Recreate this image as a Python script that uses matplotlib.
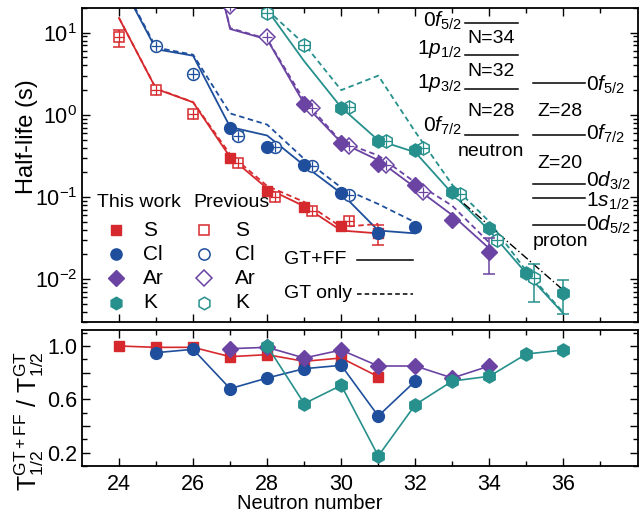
import matplotlib
matplotlib.use("Agg")
import matplotlib.pyplot as plt
import numpy as np

plt.rcParams['font.family'] = ['Liberation Sans', 'DejaVu Sans']
plt.rcParams['mathtext.fontset'] = 'custom'
plt.rcParams['mathtext.rm'] = 'Liberation Sans'
plt.rcParams['mathtext.it'] = 'Liberation Sans:italic'
plt.rcParams['mathtext.bf'] = 'Liberation Sans:bold'

# ---------------- data ----------------
elements = ['S', 'Cl', 'Ar', 'K']

# theory (GT+FF solid, GT only dashed)
N_S_th = [24, 25, 26, 27, 28, 29, 30, 31]
S_ff = [15.1, 2.07, 1.42, 0.305, 0.127, 0.077, 0.039, 0.036]
S_gt = [15.1, 2.09, 1.43, 0.33, 0.136, 0.087, 0.043, 0.047]

N_Cl_th = [24, 25, 26, 27, 28, 29, 30, 31, 32]
Cl_ff = [45, 6.3, 5.25, 0.71, 0.56, 0.242, 0.111, 0.039, 0.036]
Cl_gt = [47, 6.6, 5.4, 1.04, 0.76, 0.29, 0.13, 0.082, 0.049]

N_Ar_th = [26, 27, 28, 29, 30, 31, 32, 33, 34]
Ar_ff = [800, 11.1, 8.3, 1.36, 0.46, 0.28, 0.13, 0.06, 0.0235]
Ar_gt = [800, 11.4, 8.4, 1.5, 0.47, 0.32, 0.15, 0.078, 0.0277]

N_K_th = [28, 29, 30, 31, 32, 33, 34, 35, 36]
K_ff = [19.0, 4.5, 1.23, 0.49, 0.35, 0.11, 0.039, 0.0117, 0.0038]
K_gt = [19.0, 7.3, 2.0, 3.0, 0.62, 0.14, 0.05, 0.0125, 0.0039]

# this work
N_S_exp = [27, 28, 29, 30, 31]
S_exp = [0.30, 0.118, 0.075, 0.044, 0.036]
S_exp_err = [0, 0, 0, 0, 0.010]
N_Cl_exp = [27, 28, 29, 30, 31, 32]
Cl_exp = [0.695, 0.41, 0.242, 0.111, 0.036, 0.043]
Cl_exp_err = [0, 0, 0, 0, 0, 0]
N_Ar_exp = [29, 30, 31, 32, 33, 34]
Ar_exp = [1.36, 0.46, 0.254, 0.138, 0.052, 0.0214]
Ar_exp_err = [0, 0, 0, 0, 0, 0.010]
N_K_exp = [30, 31, 32, 33, 34, 35, 36]
K_exp = [1.20, 0.48, 0.37, 0.115, 0.042, 0.0117, 0.0068]
K_exp_err = [0, 0, 0, 0, 0, 0, 0.003]

# previous
N_S_prev = [24, 25, 26, 27, 28, 29, 30]
S_prev = [8.8, 2.0, 1.01, 0.26, 0.10, 0.067, 0.051]
S_prev_err = [2.1, 0, 0, 0, 0, 0, 0]
N_Cl_prev = [25, 26, 27, 28, 29, 30]
Cl_prev = [6.8, 3.15, 0.56, 0.41, 0.236, 0.105]
Cl_prev_err = [0, 0, 0.05, 0, 0, 0]
N_Ar_prev = [27, 28, 29, 30, 31, 32]
Ar_prev = [21, 8.8, 1.22, 0.42, 0.242, 0.115]
Ar_prev_err = [0, 0, 0, 0, 0, 0]
N_K_prev = [28, 29, 30, 31, 32, 33, 34, 35]
K_prev = [17.2, 7.1, 1.26, 0.48, 0.39, 0.11, 0.030, 0.0102]
K_prev_err = [0, 0, 0, 0, 0, 0, 0, 0.005]

# dash-dot trend line
N_fit = [33, 36]
fit_vals = [0.11, 0.0073]

# ratio panel
N_S_r = [24, 25, 26, 27, 28, 29, 30, 31]
S_ratio = [1.0, 0.99, 0.99, 0.92, 0.935, 0.885, 0.91, 0.77]
N_Cl_r = [25, 26, 27, 28, 29, 30, 31, 32]
Cl_ratio = [0.95, 0.975, 0.68, 0.76, 0.83, 0.855, 0.475, 0.737]
N_Ar_r = [27, 28, 29, 30, 31, 32, 33, 34]
Ar_ratio = [0.98, 0.99, 0.91, 0.97, 0.85, 0.85, 0.76, 0.85]
N_K_r = [28, 29, 30, 31, 32, 33, 34, 35, 36]
K_ratio = [1.0, 0.568, 0.705, 0.175, 0.56, 0.737, 0.773, 0.94, 0.97]

# level scheme (n, l, j)
neutron_levels = [('0', 'f', '5/2'), ('1', 'p', '1/2'), ('1', 'p', '3/2'), ('0', 'f', '7/2')]
neutron_gaps = ['N=34', 'N=32', 'N=28']
proton_levels = [('0', 'f', '5/2'), ('0', 'f', '7/2'), ('0', 'd', '3/2'), ('1', 's', '1/2'), ('0', 'd', '5/2')]
proton_gaps = ['Z=28', 'Z=20']

# ---------------- style ----------------
colors = {'S': '#d6292e', 'Cl': '#1f4f9c', 'Ar': '#6b44a3', 'K': '#27908c'}
markers = {'S': 's', 'Cl': 'o', 'Ar': 'D', 'K': 'h'}
msize = {'S': 7.5, 'Cl': 8.5, 'Ar': 8.5, 'K': 9.5}

th = {'S': (N_S_th, S_ff, S_gt), 'Cl': (N_Cl_th, Cl_ff, Cl_gt),
      'Ar': (N_Ar_th, Ar_ff, Ar_gt), 'K': (N_K_th, K_ff, K_gt)}
ex = {'S': (N_S_exp, S_exp, S_exp_err), 'Cl': (N_Cl_exp, Cl_exp, Cl_exp_err),
      'Ar': (N_Ar_exp, Ar_exp, Ar_exp_err), 'K': (N_K_exp, K_exp, K_exp_err)}
pv = {'S': (N_S_prev, S_prev, S_prev_err), 'Cl': (N_Cl_prev, Cl_prev, Cl_prev_err),
      'Ar': (N_Ar_prev, Ar_prev, Ar_prev_err), 'K': (N_K_prev, K_prev, K_prev_err)}
rt = {'S': (N_S_r, S_ratio), 'Cl': (N_Cl_r, Cl_ratio),
      'Ar': (N_Ar_r, Ar_ratio), 'K': (N_K_r, K_ratio)}

W, H = 639, 521
fig = plt.figure(figsize=(W / 100, H / 100), dpi=100)
L, R = 82, 637.5
ax = fig.add_axes([L / W, 1 - 322 / H, (R - L) / W, (322 - 8) / H])
ax2 = fig.add_axes([L / W, 1 - 466 / H, (R - L) / W, (466 - 330) / H])

for e in elements:
    c = colors[e]
    n, ff, gt = th[e]
    ax.plot(n, ff, '-', color=c, lw=1.3, zorder=2)
    ax.plot(n, gt, '--', color=c, lw=1.3, dashes=(3, 2), zorder=2)

ax.plot(N_fit, fit_vals, color='black', lw=1.0, dashes=(6, 2, 1, 2), zorder=2)

for e in elements:
    c = colors[e]
    n, v, er = pv[e]
    nexp = ex[e][0]
    xs = [x + (0.2 if x in nexp else 0.0) for x in n]
    err = np.array(er, dtype=float)
    ax.errorbar(xs, v, yerr=np.where(err > 0, err, np.nan), fmt='none', ecolor=c,
                elinewidth=1.1, capsize=4, capthick=1.1, zorder=3)
    ax.plot(xs, v, linestyle='none', marker=markers[e], ms=msize[e], mfc='white',
            mec=c, mew=1.1, zorder=4)
    ax.plot(xs, v, linestyle='none', marker='+', ms=msize[e] * 0.9, mec=c, mew=0.9, zorder=4)

for e in elements:
    c = colors[e]
    n, v, er = ex[e]
    err = np.array(er, dtype=float)
    ax.errorbar(n, v, yerr=np.where(err > 0, err, np.nan), fmt='none', ecolor=c,
                elinewidth=1.1, capsize=4, capthick=1.1, zorder=5)
    ax.plot(n, v, linestyle='none', marker=markers[e], ms=msize[e], mfc=c, mec=c,
            mew=1, zorder=6)

ax.set_yscale('log')
ax.set_ylim(0.003, 20)
ax.set_ylabel('Half-life (s)', fontsize=17)
ax.yaxis.set_label_coords(-0.08, 0.59)

for a in (ax, ax2):
    a.set_xlim(23, 38)
    a.set_xticks(range(24, 37, 2))
    a.set_xticks(range(25, 38, 2), minor=True)
    a.tick_params(which='both', direction='in', top=True, right=True, labelsize=15.5, width=1.0)
    a.tick_params(which='major', length=6)
    a.tick_params(which='minor', length=3.5)
    for s in a.spines.values():
        s.set_linewidth(1.3)
ax.tick_params(labelbottom=False)
ax2.tick_params(axis='x', which='major', pad=5.5)

# ratio panel
for e in elements:
    c = colors[e]
    n, r = rt[e]
    ax2.plot(n, r, '-', color=c, lw=1.2, marker=markers[e], ms=msize[e], mfc=c, mec=c)
ax2.set_ylim(0.1, 1.12)
ax2.set_yticks([0.2, 0.4, 0.6, 0.8, 1.0])
ax2.set_yticklabels(['0.2', '', '0.6', '', '1.0'])
ax2.set_yticks(np.arange(0.1, 1.11, 0.1), minor=True)
ax2.set_xlabel('Neutron number', fontsize=14.5)
ax2.xaxis.set_label_coords(0.41, -0.205)
ax2.set_ylabel(r'T$_{1/2}^{\mathrm{GT+FF}}$ / T$_{1/2}^{\mathrm{GT}}$', fontsize=18)
ax2.yaxis.set_label_coords(-0.064, 0.33)


def ax_xy(px, py):
    return ((px - L) / (R - L), (322 - py) / (322 - 8))


def orb(t):
    return r'$\mathrm{%s}\mathit{%s}_{\mathrm{%s}}$' % t


# legend (manual)
fs = 14
x0, y0 = ax_xy(97, 203)
ax.text(x0, y0, 'This work', transform=ax.transAxes, fontsize=fs, va='center', ha='left')
x0, y0 = ax_xy(193, 203)
ax.text(x0, y0, 'Previous', transform=ax.transAxes, fontsize=fs, va='center', ha='left')
for i, e in enumerate(elements):
    py = 230 + i * 24.2
    c = colors[e]
    mx, my = ax_xy(115.7, py)
    ax.plot([mx], [my], transform=ax.transAxes, marker=markers[e], ms=msize[e] * 0.95,
            mfc=c, mec=c, ls='none', clip_on=False)
    tx, ty = ax_xy(143, py)
    ax.text(tx, ty, e, transform=ax.transAxes, fontsize=fs + 1, va='center', ha='left')
    mx, my = ax_xy(203.5, py)
    ax.plot([mx], [my], transform=ax.transAxes, marker=markers[e], ms=msize[e] * 0.95,
            mfc='white', mec=c, mew=1.1, ls='none', clip_on=False)
    tx, ty = ax_xy(235, py)
    ax.text(tx, ty, e, transform=ax.transAxes, fontsize=fs + 1, va='center', ha='left')

for lab, py, ls in [('GT+FF', 260, '-'), ('GT only', 294, '--')]:
    tx, ty = ax_xy(284, py)
    ax.text(tx, ty, lab, transform=ax.transAxes, fontsize=fs, va='center', ha='left')
    xa, ya = ax_xy(357, py)
    xb, _ = ax_xy(413, py)
    if ls == '-':
        ax.plot([xa, xb], [ya, ya], transform=ax.transAxes, color='black', lw=1.1)
    else:
        ax.plot([xa, xb], [ya, ya], transform=ax.transAxes, color='black', lw=1.1, dashes=(3, 2))

# level scheme
n_y = [22.7, 55, 89, 135]
n_off = [4, -1, -1, -3]
for lab, py, off in zip(neutron_levels, n_y, n_off):
    xa, ya = ax_xy(464.5, py)
    xb, _ = ax_xy(517.5, py)
    ax.plot([xa, xb], [ya, ya], transform=ax.transAxes, color='black', lw=1.1)
    tx, ty = ax_xy(462, py + off)
    ax.text(tx, ty, orb(lab), transform=ax.transAxes, fontsize=fs + 1, ha='right', va='baseline')
for lab, py in zip(neutron_gaps, [38.5, 71, 111]):
    tx, ty = ax_xy(491, py)
    ax.text(tx, ty, lab, transform=ax.transAxes, fontsize=fs, ha='center', va='center')
tx, ty = ax_xy(491, 151.5)
ax.text(tx, ty, 'neutron', transform=ax.transAxes, fontsize=fs, ha='center', va='center')

p_y = [83.3, 135, 184.3, 197.7, 225]
p_off = [7, 5, 2, 9, 6]
for lab, py, off in zip(proton_levels, p_y, p_off):
    xa, ya = ax_xy(533, py)
    xb, _ = ax_xy(585, py)
    ax.plot([xa, xb], [ya, ya], transform=ax.transAxes, color='black', lw=1.1)
    tx, ty = ax_xy(586, py + off)
    ax.text(tx, ty, orb(lab), transform=ax.transAxes, fontsize=fs + 1, ha='left', va='baseline')
for lab, py in zip(proton_gaps, [112, 163.5]):
    tx, ty = ax_xy(560, py)
    ax.text(tx, ty, lab, transform=ax.transAxes, fontsize=fs, ha='center', va='center')
tx, ty = ax_xy(560, 242)
ax.text(tx, ty, 'proton', transform=ax.transAxes, fontsize=fs, ha='center', va='center')

fig.savefig('out.png', dpi=100)
